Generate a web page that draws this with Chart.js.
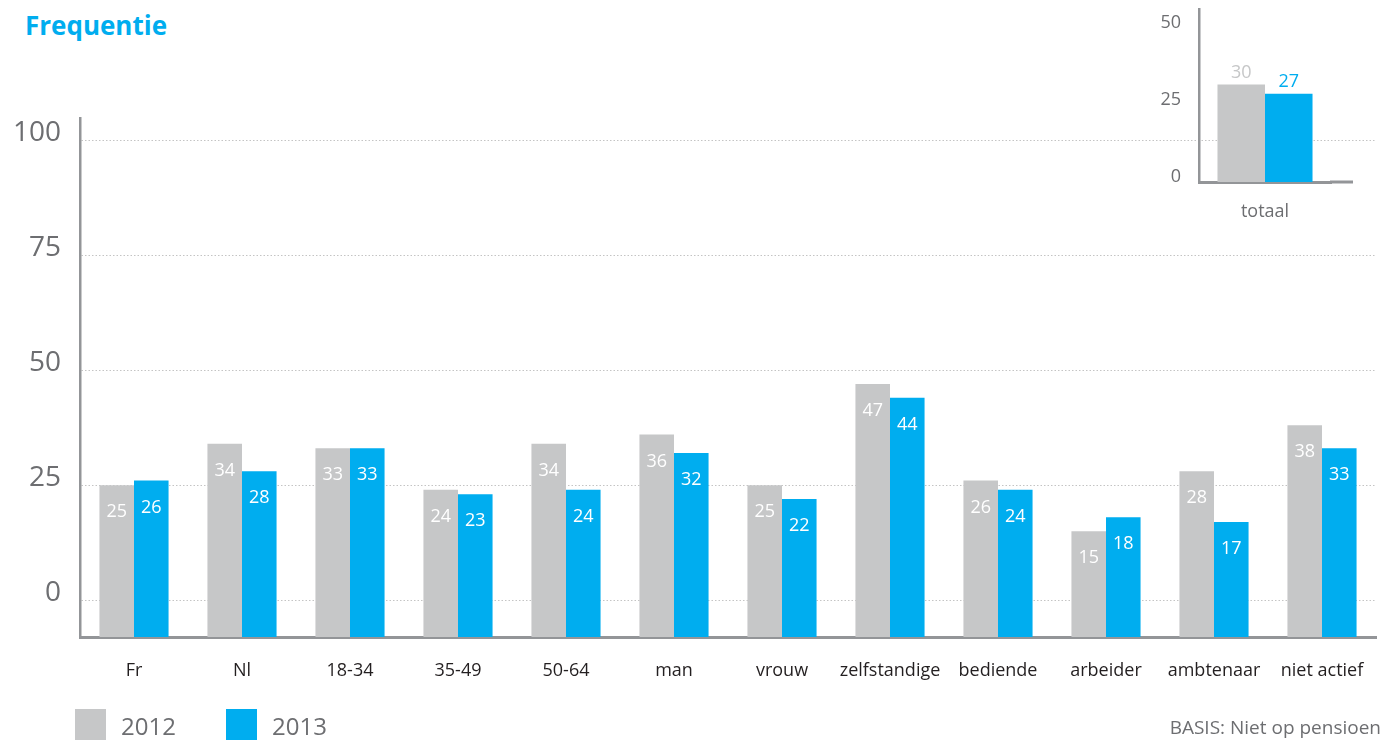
<!DOCTYPE html>
<html>
<head>
<meta charset="utf-8">
<script src="https://cdn.jsdelivr.net/npm/chart.js@4.4.1/dist/chart.umd.min.js"></script>
<style>
  body { margin: 0; width: 1398px; height: 740px; position: relative; background: #fff; overflow: hidden; font-family: 'Open Sans', sans-serif; }
  #main { position: absolute; left: 0; top: 0; }
  #inset { position: absolute; left: 1140px; top: 0; }
  .txt { position: absolute; line-height: 1; white-space: nowrap; }
  .box { position: absolute; width: 31px; height: 31px; }
</style>
</head>
<body>
<div class="txt" style="left:25px; top:12px; font-size:26px; font-weight:700; color:#00adef;">Frequentie</div>
<canvas id="main" width="1398" height="740"></canvas>
<canvas id="inset" width="258" height="230"></canvas>
<div class="box" style="left:75px; top:709px; background:#c6c7c8;"></div>
<div class="txt" style="left:121px; top:714px; font-size:24px; color:#6d6e71;">2012</div>
<div class="box" style="left:226px; top:709px; background:#00adef;"></div>
<div class="txt" style="left:272px; top:714px; font-size:24px; color:#6d6e71;">2013</div>
<div class="txt" style="right:17px; top:718px; font-size:19px; color:#6d6e71;">BASIS: Niet op pensioen</div>

<script>
const categories = ['Fr', 'Nl', '18-34', '35-49', '50-64', 'man', 'vrouw', 'zelfstandige', 'bediende', 'arbeider', 'ambtenaar', 'niet actief'];
const values2012 = [25, 34, 33, 24, 34, 36, 25, 47, 26, 15, 28, 38];
const values2013 = [26, 28, 33, 23, 24, 32, 22, 44, 24, 18, 17, 33];
const yTicks = [0, 25, 50, 75, 100];

const totalLabels = ['totaal'];
const total2012 = [30];
const total2013 = [27];
const totalTicks = [0, 25, 50];

const GREY = '#c6c7c8';
const BLUE = '#00adef';
const TEXT = '#6d6e71';

Chart.defaults.font.family = "'Open Sans', sans-serif";
Chart.defaults.animation = false;

// values written inside the bar, near its top
const insideLabels = {
    id: 'insideLabels',
    afterDatasetsDraw(chart) {
        const ctx = chart.ctx;
        ctx.save();
        ctx.font = '18px "Open Sans"';
        ctx.fillStyle = '#fff';
        ctx.textAlign = 'center';
        ctx.textBaseline = 'middle';
        chart.data.datasets.forEach((ds, i) => {
            chart.getDatasetMeta(i).data.forEach((bar, j) => {
                ctx.fillText(ds.data[j], bar.x, bar.y + 27);
            });
        });
        ctx.restore();
    }
};

// values written above the bar, in the bar colour
const aboveLabels = {
    id: 'aboveLabels',
    afterDatasetsDraw(chart) {
        const ctx = chart.ctx;
        ctx.save();
        ctx.font = '18px "Open Sans"';
        ctx.textAlign = 'center';
        ctx.textBaseline = 'middle';
        chart.data.datasets.forEach((ds, i) => {
            ctx.fillStyle = ds.backgroundColor;
            chart.getDatasetMeta(i).data.forEach((bar, j) => {
                ctx.fillText(ds.data[j], bar.x, bar.y - 12);
            });
        });
        ctx.restore();
    }
};

// the inset x axis runs a little past the last bar group
const axisTail = {
    id: 'axisTail',
    afterDraw(chart) {
        const a = chart.chartArea;
        const ctx = chart.ctx;
        ctx.save();
        ctx.strokeStyle = '#939598';
        ctx.lineWidth = 3;
        ctx.beginPath();
        ctx.moveTo(a.right - 1, a.bottom);
        ctx.lineTo(a.right + 22, a.bottom);
        ctx.stroke();
        ctx.restore();
    }
};

new Chart(document.getElementById('main').getContext('2d'), {
    type: 'bar',
    data: {
        labels: categories,
        datasets: [
            { label: '2012', data: values2012, backgroundColor: GREY, base: -8, categoryPercentage: 0.64, barPercentage: 1 },
            { label: '2013', data: values2013, backgroundColor: BLUE, base: -8, categoryPercentage: 0.64, barPercentage: 1 }
        ]
    },
    options: {
        responsive: false,
        layout: { padding: { top: 118, right: 22, left: 0, bottom: 0 } },
        plugins: { legend: { display: false }, tooltip: { enabled: false } },
        scales: {
            x: {
                grid: { display: false },
                border: { color: '#939598', width: 3 },
                ticks: { color: '#231f20', font: { size: 18 }, padding: 15 },
                afterFit: scale => { scale.height = 103; }
            },
            y: {
                min: -8,
                max: 104.8,
                afterBuildTicks: scale => { scale.ticks = yTicks.map(v => ({ value: v })); },
                grid: { color: '#c4c4c4', lineWidth: 1, drawTicks: false },
                border: { color: '#939598', width: 2.5, dash: [1.5, 2] },
                ticks: { color: TEXT, font: { size: 28 }, padding: 19, labelOffset: -7 },
                afterFit: scale => { scale.width = 80; }
            }
        }
    },
    plugins: [insideLabels]
});

new Chart(document.getElementById('inset').getContext('2d'), {
    type: 'bar',
    data: {
        labels: totalLabels,
        datasets: [
            { label: '2012', data: total2012, backgroundColor: GREY, base: -1.5, categoryPercentage: 0.72, barPercentage: 1 },
            { label: '2013', data: total2013, backgroundColor: BLUE, base: -1.5, categoryPercentage: 0.72, barPercentage: 1 }
        ]
    },
    options: {
        responsive: false,
        layout: { autoPadding: false, padding: { top: 9, right: 67, left: 0, bottom: 0 } },
        plugins: { legend: { display: false }, tooltip: { enabled: false } },
        scales: {
            x: {
                grid: { display: false },
                border: { color: '#939598', width: 3 },
                ticks: { color: TEXT, font: { size: 18 }, padding: 11 },
                afterFit: scale => { scale.height = 48; scale.paddingLeft = 0; scale.paddingRight = 0; }
            },
            y: {
                min: -1.5,
                max: 54.4,
                afterBuildTicks: scale => { scale.ticks = totalTicks.map(v => ({ value: v })); },
                grid: { display: false, drawTicks: false },
                border: { color: '#939598', width: 2.5 },
                ticks: { color: TEXT, font: { size: 18 }, padding: 18 },
                afterFit: scale => { scale.width = 59; scale.paddingTop = 0; scale.paddingBottom = 0; }
            }
        }
    },
    plugins: [aboveLabels, axisTail]
});
</script>
</body>
</html>
